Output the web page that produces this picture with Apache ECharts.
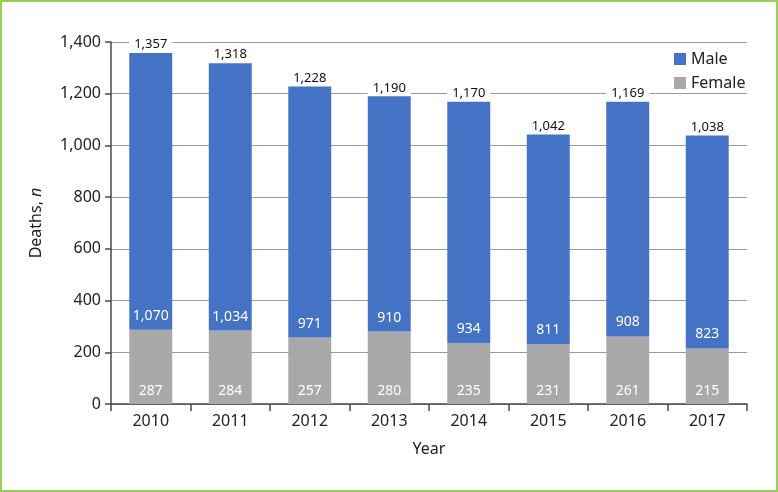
<!DOCTYPE html>
<html><head><meta charset="utf-8">
<script src="https://cdn.jsdelivr.net/npm/echarts@6/dist/echarts.min.js"></script>
<style>html,body{margin:0;padding:0;background:#fff}#c{width:778px;height:492px}</style>
</head><body><div id="c"></div>
<script>
var years = ['2010','2011','2012','2013','2014','2015','2016','2017'];
var male = [1070,1034,971,910,934,811,908,823];
var female = [287,284,257,280,235,231,261,215];
var totals = [1357,1318,1228,1190,1170,1042,1169,1038];
var yTicks = [0,200,400,600,800,1000,1200,1400];

var FONT = 'Noto Sans';
function fmt(v){ return Number(v).toLocaleString('en-US'); }

var chart = echarts.init(document.getElementById('c'));
chart.setOption({
  animation: false,
  textStyle: { fontFamily: FONT },
  graphic: [{ type: 'rect', shape: { x: 1, y: 1, width: 776, height: 490 },
    style: { fill: 'none', stroke: '#98d15a', lineWidth: 2 }, z: 100 }],
  grid: { left: 111, right: 31, top: 42, bottom: 88 },
  legend: {
    data: ['Male', 'Female'], orient: 'vertical', left: 669, top: 46,
    itemWidth: 12, itemHeight: 12, itemGap: 8, icon: 'rect',
    textStyle: { fontSize: 16, color: '#222', fontFamily: FONT }
  },
  xAxis: {
    type: 'category', data: years,
    name: 'Year', nameLocation: 'middle', nameGap: 37,
    nameTextStyle: { fontSize: 16, color: '#222' },
    axisLine: { lineStyle: { color: '#4a4a4a', width: 1.5 } },
    axisTick: { show: true, alignWithLabel: false, length: 7, lineStyle: { color: '#4a4a4a', width: 1.5 } },
    axisLabel: { fontSize: 16, color: '#222', margin: 9 }
  },
  yAxis: {
    type: 'value', min: 0, max: 1400, interval: 200,
    name: 'Deaths, {i|n}', nameLocation: 'middle', nameGap: 67,
    nameTextStyle: { fontSize: 16, color: '#222', rich: { i: { fontStyle: 'italic', fontSize: 16, color: '#222' } } },
    axisLine: { show: true, lineStyle: { color: '#4a4a4a', width: 1.5 } },
    axisTick: { show: true, inside: false, length: 6, lineStyle: { color: '#4a4a4a', width: 1.5 } },
    splitLine: { lineStyle: { color: '#9a9a9a', width: 1.2 } },
    axisLabel: { fontSize: 16, color: '#222', margin: 10,
      formatter: function(v){ return yTicks.indexOf(v) >= 0 ? fmt(v) : ''; } }
  },
  series: [
    { name: 'Female', type: 'bar', stack: 's', data: female, barWidth: '54%',
      itemStyle: { color: '#a9a9a9' },
      label: { show: true, position: 'insideBottom', distance: 6, color: '#fff', fontSize: 14,
        formatter: function(p){ return fmt(p.value); } } },
    { name: 'Male', type: 'bar', stack: 's', data: male, barWidth: '54%',
      itemStyle: { color: '#4472c4' },
      label: { show: true, position: 'insideBottom', distance: 7, color: '#fff', fontSize: 14,
        formatter: function(p){ return fmt(p.value); } } },
    { name: 'Total', type: 'bar', data: totals, barWidth: '54%', barGap: '-100%',
      itemStyle: { color: 'rgba(0,0,0,0)' }, z: 1, silent: true,
      label: { show: true, position: 'top', distance: 2, color: '#111', fontSize: 13,
        backgroundColor: '#fff', padding: [0, 5],
        formatter: function(p){ return fmt(p.value); } } }
  ]
});
</script></body></html>
